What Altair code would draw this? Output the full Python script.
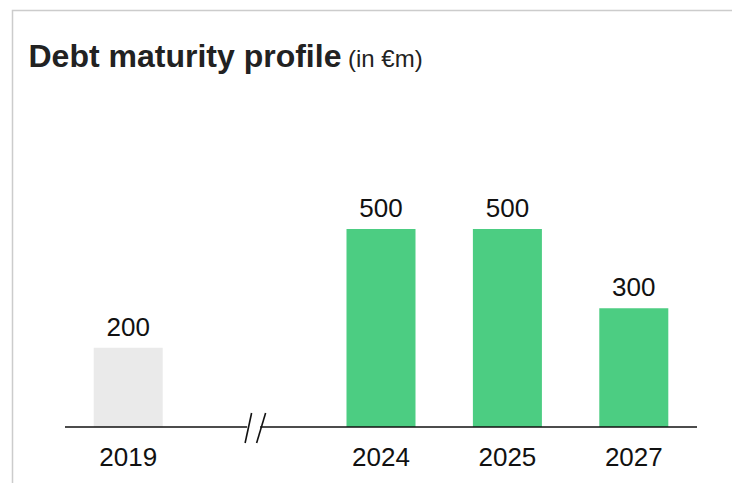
import altair as alt
import pandas as pd

# ---- data ----
years = ["2019", "2024", "2025", "2027"]
amounts = [200, 500, 500, 300]
kinds = ["past", "future", "future", "future"]
x_domain = ["2019", " ", "2024", "2025", "2027"]   # blank slot = axis break
title_main = "Debt maturity profile"
title_unit = "(in €m)"

# ---- layout ----
W, H = 632, 317
STEP = W / len(x_domain)
BREAK_X = 1.5 * STEP
FONT = "Liberation Sans, Arial, Helvetica, sans-serif"

df = pd.DataFrame({"year": years, "value": amounts, "kind": kinds})
one = pd.DataFrame({"a": [0]})

x_enc = alt.X(
    "year:N",
    scale=alt.Scale(domain=x_domain, paddingInner=0.454, paddingOuter=0.227),
    axis=alt.Axis(
        title=None, domain=False, ticks=False, tickSize=0, grid=False,
        labelAngle=0, labelFontSize=26, labelFont=FONT, labelColor="#111111",
        labelBaseline="alphabetic", labelPadding=38,
    ),
)
y_enc = alt.Y("value:Q", scale=alt.Scale(domain=[0, 800]), axis=None)

border = alt.Chart(one).mark_rect(
    fillOpacity=0, stroke="#cccccc", strokeWidth=1.5
).encode(
    x=alt.value(-52.5), x2=alt.value(W + 300),
    y=alt.value(-99.5), y2=alt.value(H + 400),
)

bars = alt.Chart(df).mark_bar().encode(
    x=x_enc,
    y=y_enc,
    color=alt.Color(
        "kind:N",
        scale=alt.Scale(domain=["past", "future"], range=["#eaeaea", "#4ccd82"]),
        legend=None,
    ),
)

labels = alt.Chart(df).mark_text(
    baseline="alphabetic", dy=-12, fontSize=26, font=FONT, color="#111111"
).encode(x=x_enc, y=y_enc, text="value:Q")


def seg(x1, x2, y1, y2):
    return alt.Chart(one).mark_rule(color="#111111", strokeWidth=1.6).encode(
        x=alt.value(x1), x2=alt.value(x2), y=alt.value(y1), y2=alt.value(y2)
    )


base_left = seg(0, BREAK_X - 7.5, H, H)
base_right = seg(BREAK_X + 5.5, W, H, H)
slash1 = seg(BREAK_X - 3, BREAK_X - 9.5, H - 14, H + 16)
slash2 = seg(BREAK_X + 11, BREAK_X + 2, H - 14, H + 16)

t_main = alt.Chart(one).mark_text(
    align="left", baseline="alphabetic", fontSize=32, fontWeight="bold",
    font=FONT, color="#222222"
).encode(x=alt.value(-36.5), y=alt.value(-43), text=alt.value(title_main))

t_unit = alt.Chart(one).mark_text(
    align="left", baseline="alphabetic", fontSize=24, font=FONT, color="#222222"
).encode(x=alt.value(283), y=alt.value(-43), text=alt.value(title_unit))

chart = alt.layer(
    border, bars, labels, base_left, base_right, slash1, slash2, t_main, t_unit
).properties(
    width=W, height=H,
    autosize=alt.AutoSizeParams(type="none"),
    padding={"left": 57, "top": 102, "right": 35, "bottom": 56},
).configure(
    background="white",
    view=alt.ViewConfig(stroke="transparent", strokeWidth=0),
)

chart.save("out.html", embed_options={"renderer": "svg", "actions": False})
